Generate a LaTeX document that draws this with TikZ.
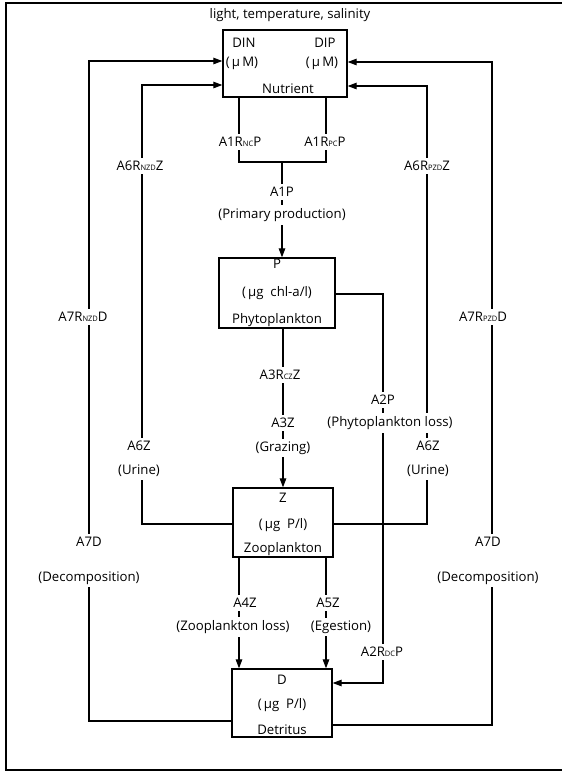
\documentclass[tikz,border=0pt]{standalone}
\usepackage{fontspec}
\setmainfont{Open Sans}
\usetikzlibrary{arrows.meta}
\newcommand\sbx[1]{{\fontsize{7.5}{8}\selectfont #1}}
\begin{document}
\begin{tikzpicture}[x=1pt,y=-1pt]
\tikzset{
  conn/.style={line width=1.2pt},
  arr/.style={conn,-{Triangle[length=9pt,width=6.5pt]}},
  box/.style={draw,line width=1.3pt,inner sep=0pt,fill=white},
  lbl/.style={fill=white,inner xsep=1pt,inner ysep=3pt,font=\fontsize{13.2}{15}\selectfont},
  lbltwo/.style={lbl,align=center,font=\fontsize{13.2}{#1}\selectfont},
  txt/.style={inner sep=0pt,font=\fontsize{13.2}{15}\selectfont},
}
\useasboundingbox (0,0) rectangle (562,772);
\fill[white] (0,0) rectangle (562,772);
% frame
\draw[line width=1.5pt] (562,3) -- (6,3) -- (6,770) -- (562,770);
% boxes
\node[box,minimum width=124pt,minimum height=67pt] (N) at (285,63.5) {};
\node[box,minimum width=116pt,minimum height=70pt] (P) at (277,293) {};
\node[box,minimum width=100pt,minimum height=69pt] (Z) at (283,522.5) {};
\node[box,minimum width=100pt,minimum height=68pt] (D) at (282,703) {};
% corner coordinates
\coordinate (oL1) at (89,721);  \coordinate (oL2) at (89,61);
\coordinate (iL1) at (142,524); \coordinate (iL2) at (142,85);
\coordinate (iR1) at (427,524); \coordinate (iR2) at (427,86);
\coordinate (oR1) at (492,725); \coordinate (oR2) at (492,62);
\coordinate (bL) at (239,162);  \coordinate (bR) at (326,162); \coordinate (bC) at (282,162);
\coordinate (a1) at (383,294);  \coordinate (a2) at (383,683);
% connectors
\draw[arr] (D.west |- oL1) -- (oL1) -- (oL2) -- (N.west |- oL2);
\draw[arr] (Z.west |- iL1) -- (iL1) -- (iL2) -- (N.west |- iL2);
\draw[arr] (Z.east |- iR1) -- (iR1) -- (iR2) -- (N.east |- iR2);
\draw[arr] (D.east |- oR1) -- (oR1) -- (oR2) -- (N.east |- oR2);
\draw[conn] (N.south -| bL) -- (bL) -- (bR) -- (N.south -| bR);
\draw[arr] (bC) -- (P.north -| bC);
\draw[arr] (P.south -| Z.north) -- (Z.north);
\draw[arr] (Z.south -| bL) -- (D.north -| bL);
\draw[arr] (Z.south -| bR) -- (D.north -| bR);
\draw[arr] (P.east |- a1) -- (a1) -- (a2) -- (D.east |- a2);
% labels on connectors
\node[lbl] (t1) at (240,142) {A1R\sbx{NC}P};
\node[lbl] (t2) at (325,142) {A1R\sbx{PC}P};
\node[lbl] (t3) at (140,166) {A6R\sbx{NZD}Z};
\node[lbl] (t4) at (427,166) {A6R\sbx{PZD}Z};
\node[lbl] (t5) at (282,192) {A1P};
\node[lbl] (t6) at (282,215) {(Primary production)};
\node[lbl] (t7) at (83,317) {A7R\sbx{NZD}D};
\node[lbl] (t8) at (483,317) {A7R\sbx{PZD}D};
\node[lbl] (t9) at (280,375) {A3R\sbx{CZ}Z};
\node[lbl] (t10) at (383,400) {A2P};
\node[lbl] (t11) at (390,423) {(Phytoplankton loss)};
\node[lbl] (t12) at (283,423) {A3Z};
\node[lbl] (t13) at (283,448) {(Grazing)};
\node[lbltwo=24pt] (t14) at (139,459) {A6Z\\(Urine)};
\node[lbltwo=24pt] (t15) at (428,459) {A6Z\\(Urine)};
\node[lbltwo=35pt] (t16) at (89,560.5) {A7D\\(Decomposition)};
\node[lbltwo=35pt] (t17) at (488,560.5) {A7D\\(Decomposition)};
\node[lbl] (t18) at (245,603) {A4Z};
\node[lbl] (t19) at (233,627) {(Zooplankton loss)};
\node[lbl] (t20) at (328,603) {A5Z};
\node[lbl,inner xsep=0pt] (t21) at (341,627) {(Egestion)};
\node[lbl] (t22) at (382,652) {A2R\sbx{DC}P};
% title
\node[txt] (title) at (290,15) {light, temperature, salinity};
% box texts
\node[txt] (n1) at (244,43) {DIN};
\node[txt] (n2) at (325,43) {DIP};
\node[txt] (n3) at (242,63) {(\,μ\,M)};
\node[txt] (n4) at (322,63) {(\,μ\,M)};
\node[txt] (n5) at (288,89) {Nutrient};
\node[txt] (p1) at (277,264) {P};
\node[txt] (p2) at (277,293) {(\,μg\ \ chl-a/l)};
\node[txt] (p3) at (277,320) {Phytoplankton};
\node[txt] (z1) at (283,498) {Z};
\node[txt] (z2) at (283,525) {(\,μg\ \ P/l)};
\node[txt] (z3) at (283,549) {Zooplankton};
\node[txt] (d1) at (282,680) {D};
\node[txt] (d2) at (282,705) {(\,μg\ \ P/l)};
\node[txt] (d3) at (282,730) {Detritus};
\end{tikzpicture}
\end{document}
